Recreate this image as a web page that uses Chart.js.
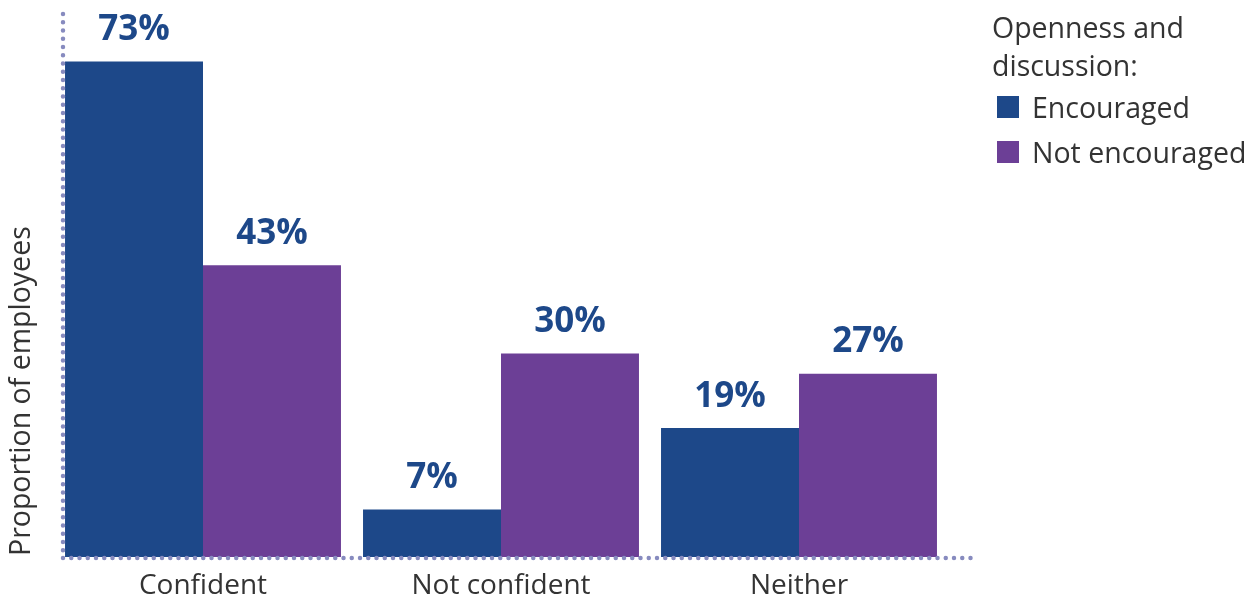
<!DOCTYPE html>
<html>
<head>
<meta charset="utf-8">
<script src="https://cdn.jsdelivr.net/npm/chart.js@4/dist/chart.umd.min.js"></script>
<style>
  html, body { margin: 0; padding: 0; background: #fff; }
  #wrap { position: relative; width: 1256px; height: 599px; }
  #legend { position: absolute; left: 992px; top: 8px; font-family: "Open Sans", sans-serif; font-size: 28.5px; color: #333; }
  #legend .titulo { line-height: 38px; }
  #legend .item { display: flex; align-items: center; height: 45px; }
  #legend .caja { width: 22px; height: 22px; margin: 0 13px 0 5px; }
</style>
</head>
<body>
<div id="wrap">
  <canvas id="grafico" width="1256" height="599"></canvas>
  <div id="legend"></div>
</div>
<script>
// datos del gráfico
const categorias = ['Confident', 'Not confident', 'Neither'];
const encouraged = [73, 7, 19];
const notEncouraged = [43, 30, 27];
const series = ['Encouraged', 'Not encouraged'];
const tituloLeyenda = ['Openness and', 'discussion:'];
const tituloEje = 'Proportion of employees';

const AZUL = '#1d4889';
const MORADO = '#6c3f96';
const PUNTOS = '#878bbf';

// ejes punteados + etiquetas de datos
const extras = {
  id: 'extras',
  afterDatasetsDraw(chart) {
    const { ctx, chartArea } = chart;
    const x0 = chartArea.left + 9;
    const yb = chartArea.bottom + 1;

    ctx.save();
    ctx.strokeStyle = PUNTOS;
    ctx.lineWidth = 4.5;
    ctx.lineCap = 'round';
    ctx.setLineDash([0, 8.25]);
    ctx.beginPath();
    ctx.moveTo(x0, chartArea.top);
    ctx.lineTo(x0, yb);
    ctx.moveTo(x0, yb);
    ctx.lineTo(chartArea.right + 24, yb);
    ctx.stroke();
    ctx.restore();

    // etiquetas sobre las barras
    ctx.save();
    ctx.fillStyle = AZUL;
    ctx.font = 'bold 35px "Open Sans", sans-serif';
    ctx.textAlign = 'center';
    ctx.textBaseline = 'bottom';
    chart.data.datasets.forEach((ds, i) => {
      chart.getDatasetMeta(i).data.forEach((bar, j) => {
        ctx.fillText(ds.data[j] + '%', bar.x, bar.y - 14);
      });
    });
    ctx.restore();

    // título del eje Y
    ctx.save();
    ctx.fillStyle = '#333';
    ctx.font = '28.5px "Open Sans", sans-serif';
    ctx.textAlign = 'left';
    ctx.textBaseline = 'middle';
    ctx.translate(22, yb - 2);
    ctx.rotate(-Math.PI / 2);
    ctx.fillText(tituloEje, 0, 0);
    ctx.restore();
  }
};

const chart = new Chart(document.getElementById('grafico'), {
  type: 'bar',
  data: {
    labels: categorias,
    datasets: [
      { label: series[0], data: encouraged, backgroundColor: AZUL },
      { label: series[1], data: notEncouraged, backgroundColor: MORADO }
    ]
  },
  options: {
    responsive: false,
    animation: false,
    layout: { padding: { left: 54, right: 308, top: 14, bottom: 0 } },
    plugins: { legend: { display: false }, tooltip: { enabled: false } },
    datasets: { bar: { barPercentage: 1, categoryPercentage: 0.926 } },
    scales: {
      x: {
        grid: { display: false, drawTicks: false },
        border: { display: false },
        ticks: { color: '#333', font: { family: 'Open Sans', size: 28 }, padding: 12 },
        afterFit: s => { s.height = 42; }
      },
      y: { display: false, min: 0, max: 80 }
    }
  },
  plugins: [extras]
});

// leyenda en HTML
const leyenda = document.getElementById('legend');
leyenda.innerHTML = tituloLeyenda.map(t => `<div class="titulo">${t}</div>`).join('') +
  chart.data.datasets.map(ds => `
    <div class="item"><span class="caja" style="background:${ds.backgroundColor}"></span>${ds.label}</div>
  `).join('');
</script>
</body>
</html>
